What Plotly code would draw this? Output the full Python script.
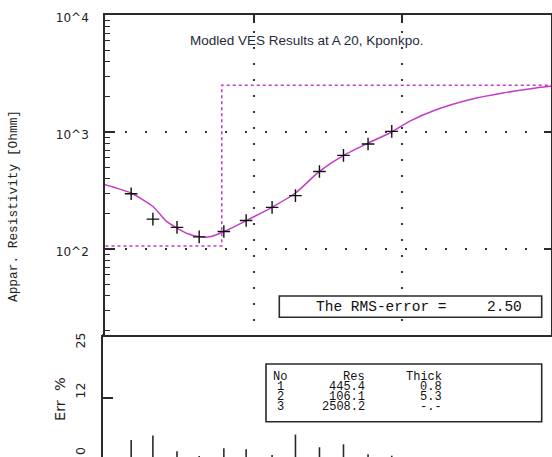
import plotly.graph_objects as go

# ---------------- data ----------------
ab2 = [1.5, 2.1, 3.05, 4.3, 6.3, 8.9, 13.3, 19.1, 27.7, 40.2, 58.8, 84.9]
rho_obs = [297, 180, 153, 127, 141, 175, 227, 286, 460, 631, 789, 1012]
err_pct = [3.5, 4.4, 1.2, 0.2, 1.8, 1.6, 0.4, 4.6, 2.0, 2.6, 0.55, 0.27]

curve_ab2 = [1.0, 1.19, 1.5, 2.1, 2.59, 3.05, 3.61, 4.33, 5.19, 6.31, 8.93,
             13.25, 19.1, 27.7, 40.2, 58.9, 84.9, 111.6, 168.7, 282, 473, 793, 1000]
curve_rho = [354, 332, 301, 231, 172, 151, 135, 127, 128, 141, 175,
             227, 301, 460, 631, 805, 1000, 1232, 1549, 1888, 2153, 2377, 2455]

layer_no = ["1", "2", "3"]
layer_res = [445.4, 106.1, 2508.2]
layer_thick = [0.8, 5.3, None]
rms_error = 2.50

yticks_main = [100, 1000, 10000]
yticks_text = ["10^2", "10^3", "10^4"]
err_ticks = ["25", "12", "0"]

# ---------------- geometry helpers ----------------
W, H = 552, 457
L, R, T, B = 102, 1, 15, 0
PW, PH = W - L - R, H - T - B


def px(x):
    return (x - L) / PW


def py(y):
    return (H - B - y) / PH


split = py(335)
MAG = "#C23CC8"
INK = "#2a2a2a"

# model step built from the layer table
depths = [0.1]
acc = 0.0
for t in layer_thick[:-1]:
    acc += t
    depths.append(acc)
depths.append(1000)
step_x, step_y = [], []
for i, r in enumerate(layer_res):
    step_x += [depths[i], depths[i + 1]]
    step_y += [r, r]

# error bars as vertical sticks
ex, ey = [], []
for a, e in zip(ab2, err_pct):
    ex += [a, a, None]
    ey += [0, e, None]

fig = go.Figure()
fig.add_trace(go.Scatter(x=step_x, y=step_y, mode="lines",
                         line=dict(color=MAG, width=1.6, dash="3px,3px"),
                         xaxis="x", yaxis="y", showlegend=False, hoverinfo="skip"))
fig.add_trace(go.Scatter(x=curve_ab2, y=curve_rho, mode="lines",
                         line=dict(color=MAG, width=1.5, shape="spline", smoothing=0.6),
                         xaxis="x", yaxis="y", showlegend=False))
fig.add_trace(go.Scatter(x=ab2, y=rho_obs, mode="markers",
                         marker=dict(symbol="cross-thin", size=9,
                                     line=dict(color="#111", width=1.4)),
                         xaxis="x", yaxis="y", showlegend=False))
fig.add_trace(go.Scatter(x=ex, y=ey, mode="lines",
                         line=dict(color=INK, width=1.6),
                         xaxis="x2", yaxis="y2", showlegend=False))

minor_vals = [m * 10 ** k for k in (1, 2, 3) for m in range(2, 10)]

fig.update_layout(
    width=W, height=H,
    margin=dict(l=L, r=R, t=T, b=B, pad=0),
    paper_bgcolor="white", plot_bgcolor="white",
    xaxis=dict(type="log", range=[0, 3], domain=[px(105), 1], anchor="y",
               showline=True, linecolor=INK, linewidth=1.6, mirror=True,
               ticks="", tickvals=[10, 100], showticklabels=False,
               showgrid=True, gridcolor="#333", gridwidth=1.5, griddash="2px,14px",
               zeroline=False),
    yaxis=dict(type="log", range=[1.265, 4], domain=[split, 1], anchor="x",
               showline=True, linecolor=INK, linewidth=1.6, mirror=True,
               ticks="inside", ticklen=10, tickwidth=1.5, tickcolor=INK,
               tickvals=yticks_main, ticktext=yticks_text,
               tickfont=dict(family="DejaVu Sans", size=12, color="#222"),
               ticklabelstandoff=12, ticklabelshift=3,
               minor=dict(ticks="inside", ticklen=5, tickwidth=1.3, tickcolor=INK,
                          tickvals=minor_vals, showgrid=False),
               showgrid=True, gridcolor="#333", gridwidth=1.5, griddash="2px,18px",
               zeroline=False),
    xaxis3=dict(type="log", range=[0, 3], overlaying="x", side="top", anchor="y",
                ticks="inside", ticklen=8, tickwidth=1.5, tickcolor=INK,
                tickvals=[10, 100], showticklabels=False, showgrid=False,
                showline=False, zeroline=False),
    yaxis3=dict(type="log", range=[1.265, 4], overlaying="y", side="right", anchor="x",
                ticks="inside", ticklen=7, tickwidth=1.5, tickcolor=INK,
                tickvals=[100, 1000], showticklabels=False, showgrid=False,
                showline=False, zeroline=False),
    xaxis2=dict(type="log", range=[0, 3], domain=[px(105), 1], anchor="y2",
                visible=False),
    yaxis2=dict(range=[0, 25], domain=[0, split], anchor="free", position=0,
                showline=True, linecolor=INK, linewidth=1.6,
                ticks="inside", ticklen=10, tickwidth=1.5, tickcolor=INK,
                tickvals=[12], showticklabels=False, showgrid=False, zeroline=False),
)

# dummy traces to activate overlay axes
fig.add_trace(go.Scatter(x=[None], y=[None], xaxis="x3", yaxis="y", showlegend=False))
fig.add_trace(go.Scatter(x=[None], y=[None], xaxis="x", yaxis="y3", showlegend=False))


def note(text, x, y, font, xanchor="center", angle=0):
    return dict(text=text, x=px(x), y=py(y), xref="paper", yref="paper",
                xanchor=xanchor, yanchor="middle", showarrow=False,
                textangle=angle, font=font, borderpad=0)


ann = []
ann.append(note("Modled VES Results at A 20, Kponkpo.", 306.8, 40,
                dict(family="Liberation Sans", size=13.5, color="#1f2a3a")))
ann.append(note("Appar. Resistivity [Ohmm]", 13, 206,
                dict(family="Liberation Mono", size=12.8, color="#222"), angle=-90))
ann.append(note("Err\u00a0 %", 60, 399,
                dict(family="DejaVu Sans", size=14.5, color="#222"), angle=-90))
for t, yy in zip(err_ticks, [340.5, 390.5, 451]):
    ann.append(note(t, 80, yy, dict(family="DejaVu Sans", size=12.5, color="#222"),
                    angle=-90))

mono = dict(family="Liberation Mono", size=14.5, color="#111")
ann.append(note("The RMS-error =", 315, 307, mono, xanchor="left"))
ann.append(note(f"{rms_error:.2f}", 523, 307, mono, xanchor="right"))

tfont = dict(family="Liberation Mono", size=12, color="#111")
rows = [("No", "Res", "Thick")]
for n, r, th in zip(layer_no, layer_res, layer_thick):
    rows.append((n, f"{r:.1f}", "-.-" if th is None else f"{th:.1f}"))
for i, (a, b, c) in enumerate(rows):
    yy = 376.5 + i * 10
    if i == 0:
        ann.append(note(a, 271.5, yy, tfont, xanchor="left"))
    else:
        ann.append(note(a, 280.5, yy, tfont))
    ann.append(note(b, 365.5, yy, tfont, xanchor="right"))
    ann.append(note(c, 443, yy, tfont, xanchor="right"))
fig.update_layout(annotations=ann)

shapes = [
    dict(type="rect", xref="paper", yref="paper", x0=px(279.3), x1=px(541.7),
         y0=py(317.3), y1=py(296), line=dict(color=INK, width=1.6), fillcolor="white",
         layer="above"),
    dict(type="rect", xref="paper", yref="paper", x0=px(266), x1=px(541.7),
         y0=py(421.7), y1=py(364), line=dict(color=INK, width=1.6), fillcolor="white",
         layer="above"),
    dict(type="line", xref="paper", yref="paper", x0=0, x1=px(105), y0=split, y1=split,
         line=dict(color=INK, width=1.6)),
]
fig.update_layout(shapes=shapes)

fig.write_html("out.html", config=dict(displayModeBar=False))
